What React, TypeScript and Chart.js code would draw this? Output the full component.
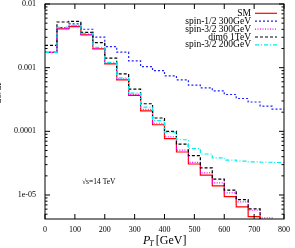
import React, { useEffect, useRef } from "react";
import { Chart, registerables } from "chart.js";

Chart.register(...registerables);

// Bin edges (GeV)
const binEdges = [0, 40, 80, 120, 160, 200, 240, 280, 320, 360, 400, 440, 480, 520, 560, 600, 640, 680, 720, 760, 800];

// Histogram contents per bin (dσ/dP_T), one value per 40 GeV bin
const smValues = [1.74e-3, 4.06e-3, 4.41e-3, 3.27e-3, 1.97e-3, 1.15e-3, 6.44e-4, 3.66e-4, 2.10e-4, 1.27e-4, 7.66e-5, 4.74e-5, 3.07e-5, 2.05e-5, 1.39e-5, 9.44e-6, 6.50e-6, 4.58e-6, 1e-7, 1e-7];
const spinHalf300Values = [1.74e-3, 4.25e-3, 4.86e-3, 4.01e-3, 3.01e-3, 2.14e-3, 1.75e-3, 1.28e-3, 1.04e-3, 9.0e-4, 7.44e-4, 6.44e-4, 5.32e-4, 4.82e-4, 4.33e-4, 3.79e-4, 3.28e-4, 2.89e-4, 2.49e-4, 2.24e-4];
const spin32_300Values = [1.74e-3, 4.13e-3, 4.52e-3, 3.33e-3, 2.01e-3, 1.168e-3, 6.67e-4, 3.82e-4, 2.22e-4, 1.34e-4, 8.23e-5, 5.06e-5, 3.25e-5, 2.22e-5, 1.55e-5, 1.08e-5, 7.80e-6, 5.76e-6, 4.38e-6, 1e-7];
const dim6Values = [2.24e-3, 5.22e-3, 5.32e-3, 3.58e-3, 2.47e-3, 1.41e-3, 8.0e-4, 4.60e-4, 2.71e-4, 1.62e-4, 9.96e-5, 6.32e-5, 4.15e-5, 2.66e-5, 1.77e-5, 1.19e-5, 8.47e-6, 6.05e-6, 1e-7, 1e-7];
const spin32_200Values = [1.74e-3, 4.28e-3, 4.60e-3, 3.45e-3, 2.08e-3, 1.21e-3, 6.92e-4, 3.98e-4, 2.40e-4, 1.47e-4, 9.68e-5, 7.38e-5, 5.34e-5, 4.41e-5, 3.82e-5, 3.52e-5, 3.40e-5, 3.31e-5, 3.27e-5, 3.24e-5];

const seriesLabels = ["SM", "spin-1/2 300GeV", "spin-3/2 300GeV", "dim6 1TeV", "spin-3/2 200GeV"];

// Axis ticks
const xTickValues = [0, 100, 200, 300, 400, 500, 600, 700, 800];
const yDecadeTicks = [1e-2, 1e-3, 1e-4, 1e-5];
const yDecadeLabels = ["0.01", "0.001", "0.0001", "1e-05"];
const yMin = 4.2e-6;
const yMax = 0.01;

const FONT = "'Liberation Serif', 'Times New Roman', serif";

function buildYTicks() {
  const out: { value: number; major: boolean }[] = [];
  for (let e = -6; e <= -2; e++) {
    for (let m = 1; m <= 9; m++) {
      const v = m * Math.pow(10, e);
      if (v >= yMin * 0.999 && v <= yMax * 1.0001) out.push({ value: v, major: m === 1 });
    }
  }
  return out;
}

function toPoints(values: number[]) {
  return binEdges.map((x, i) => ({ x, y: values[Math.min(i, values.length - 1)] }));
}

const decorPlugin = {
  id: "gnuplotDecor",
  afterDraw(chart: any) {
    const { ctx, chartArea } = chart;
    const { left, top, right, bottom } = chartArea;
    const xs = chart.scales.x;
    const ys = chart.scales.y;
    ctx.save();
    ctx.strokeStyle = "#000";
    ctx.lineWidth = 1;
    ctx.setLineDash([]);
    ctx.strokeRect(left, top, right - left, bottom - top);
    // y ticks both sides, inward
    ys.ticks.forEach((t: any) => {
      const py = ys.getPixelForValue(t.value);
      const len = t.major ? 5 : 2.5;
      ctx.beginPath();
      ctx.moveTo(left, py);
      ctx.lineTo(left + len, py);
      ctx.moveTo(right, py);
      ctx.lineTo(right - len, py);
      ctx.stroke();
    });
    // x ticks bottom & top, inward
    xs.ticks.forEach((t: any) => {
      const px = xs.getPixelForValue(t.value);
      ctx.beginPath();
      ctx.moveTo(px, bottom);
      ctx.lineTo(px, bottom - 5);
      ctx.moveTo(px, top);
      ctx.lineTo(px, top + 5);
      ctx.stroke();
    });

    // legend (text right, sample line)
    ctx.font = `9.5px ${FONT}`;
    ctx.textAlign = "right";
    ctx.textBaseline = "middle";
    chart.data.datasets.forEach((ds: any, i: number) => {
      const y = 13.3 + i * 7.9;
      ctx.fillStyle = "#000";
      ctx.fillText(ds.label, 251, y);
      ctx.strokeStyle = ds.borderColor;
      ctx.lineWidth = ds.borderWidth;
      ctx.setLineDash(ds.borderDash || []);
      ctx.beginPath();
      ctx.moveTo(255, y);
      ctx.lineTo(277, y);
      ctx.stroke();
    });
    ctx.setLineDash([]);

    // sqrt(s) annotation
    ctx.fillStyle = "#000";
    ctx.textAlign = "left";
    ctx.font = `7.5px ${FONT}`;
    ctx.fillText("\u221As=14 TeV", 82, 182);

    // x title P_T [GeV]
    ctx.textBaseline = "alphabetic";
    ctx.font = `italic 12px ${FONT}`;
    let x = 143;
    ctx.fillText("P", x, 244);
    x += ctx.measureText("P").width;
    ctx.font = `italic 8px ${FONT}`;
    ctx.fillText("T", x - 1, 246);
    x += ctx.measureText("T").width + 1;
    ctx.font = `12px ${FONT}`;
    ctx.fillText("[GeV]", x, 244);

    // y title (mostly outside the picture)
    ctx.save();
    ctx.translate(1, 92);
    ctx.rotate(-Math.PI / 2);
    ctx.textAlign = "center";
    ctx.font = `10px ${FONT}`;
    ctx.fillText("d\u03C3/dP", 0, 0);
    ctx.restore();
    ctx.restore();
  },
};

export default function App() {
  const ref = useRef<HTMLCanvasElement | null>(null);
  useEffect(() => {
    if (!ref.current) return;
    const yTicks = buildYTicks();
    const mk = (label: string, values: number[], color: string, dash: number[], order: number) => ({
      label,
      data: toPoints(values),
      borderColor: color,
      backgroundColor: color,
      borderWidth: 1.2,
      borderDash: dash,
      pointRadius: 0,
      stepped: "before" as const,
      fill: false,
      order,
    });
    const chart = new Chart(ref.current, {
      type: "line",
      data: {
        datasets: [
          mk(seriesLabels[0], smValues, "#ff0000", [], 5),
          mk(seriesLabels[1], spinHalf300Values, "#2020ff", [2, 2], 4),
          mk(seriesLabels[2], spin32_300Values, "#ff00ff", [1, 1.5], 3),
          mk(seriesLabels[3], dim6Values, "#000000", [3, 2], 2),
          mk(seriesLabels[4], spin32_200Values, "#00eeee", [4, 2, 1, 2], 1),
        ],
      },
      options: {
        responsive: false,
        animation: false,
        events: [],
        layout: { padding: { top: 4, right: 11, left: 0, bottom: 0 } },
        plugins: { legend: { display: false }, tooltip: { enabled: false } },
        scales: {
          x: {
            type: "linear",
            min: 0,
            max: 800,
            grid: { display: false, drawTicks: false },
            border: { display: false },
            afterBuildTicks: (s: any) => {
              s.ticks = xTickValues.map((v) => ({ value: v }));
            },
            afterFit: (s: any) => {
              s.height = 29;
              s.paddingLeft = 0;
              s.paddingRight = 0;
            },
            ticks: {
              autoSkip: false,
              maxRotation: 0,
              padding: 6,
              color: "#000",
              font: { family: FONT, size: 8 },
              callback: (v: any) => String(v),
            },
          },
          y: {
            type: "logarithmic",
            min: yMin,
            max: yMax,
            grid: { display: false, drawTicks: false },
            border: { display: false },
            afterBuildTicks: (s: any) => {
              s.ticks = yTicks.map((t) => ({ value: t.value, major: t.major }));
            },
            afterFit: (s: any) => {
              s.width = 45;
              s.paddingTop = 0;
              s.paddingBottom = 0;
            },
            ticks: {
              autoSkip: false,
              padding: 9,
              color: "#000",
              font: { family: FONT, size: 8 },
              callback: (_v: any, i: number, ticks: any[]) => {
                const val = ticks[i].value;
                const k = yDecadeTicks.findIndex((d) => Math.abs(Math.log10(d) - Math.log10(val)) < 1e-6);
                return k >= 0 ? yDecadeLabels[k] : "";
              },
            },
          },
        },
      },
      plugins: [decorPlugin],
    });
    return () => chart.destroy();
  }, []);
  return (
    <div style={{ position: "absolute", left: 0, top: 0, width: 295, height: 248, background: "#fff" }}>
      <canvas ref={ref} width={295} height={248} style={{ display: "block", width: 295, height: 248 }} />
    </div>
  );
}
